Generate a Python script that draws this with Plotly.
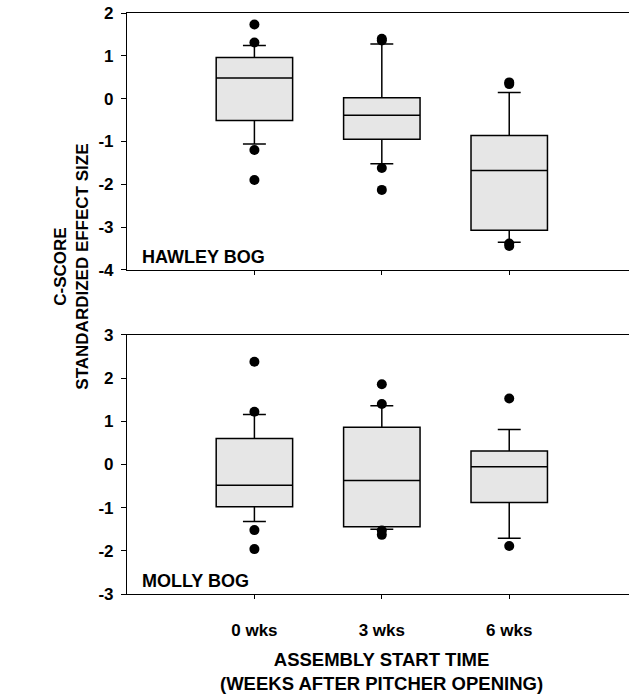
import plotly.graph_objects as go
from plotly.subplots import make_subplots

# category positions and labels
positions = [1, 2, 3]
tick_labels = ["0 wks", "3 wks", "6 wks"]

# y tick values (labels use a plain hyphen like the original)
hawley_yticks = [-4, -3, -2, -1, 0, 1, 2]
molly_yticks = [-3, -2, -1, 0, 1, 2, 3]

# Hawley Bog box statistics
hawley_q1 = [-0.51, -0.95, -3.07]
hawley_median = [0.48, -0.385, -1.68]
hawley_q3 = [0.96, 0.02, -0.86]
hawley_low = [-1.06, -1.52, -3.35]
hawley_high = [1.24, 1.275, 0.145]
hawley_outliers = [
    [1.73, 1.31, -1.20, -1.90],
    [1.40, 1.36, -1.62, -2.13],
    [0.38, 0.34, -3.38, -3.44],
]

# Molly Bog box statistics
molly_q1 = [-0.98, -1.44, -0.88]
molly_median = [-0.48, -0.37, -0.05]
molly_q3 = [0.60, 0.86, 0.31]
molly_low = [-1.32, -1.50, -1.71]
molly_high = [1.16, 1.36, 0.81]
molly_outliers = [
    [2.38, 1.22, -1.52, -1.96],
    [1.86, 1.40, -1.53, -1.63],
    [1.53, -1.89],
]

FONT = "Liberation Sans"


def bold(size):
    return dict(family=FONT, size=size, color="black", weight="bold")


def add_panel(figure, row, q1, median, q3, low, high, outliers):
    figure.add_trace(
        go.Box(
            x=positions,
            q1=q1,
            median=median,
            q3=q3,
            lowerfence=low,
            upperfence=high,
            width=0.6,
            whiskerwidth=0.3,
            fillcolor="#e6e6e6",
            line=dict(color="black", width=1.5),
            boxpoints=False,
            showlegend=False,
        ),
        row=row,
        col=1,
    )
    out_x = []
    out_y = []
    for pos, values in zip(positions, outliers):
        out_x += [pos] * len(values)
        out_y += values
    figure.add_trace(
        go.Scatter(
            x=out_x,
            y=out_y,
            mode="markers",
            marker=dict(color="black", size=10),
            showlegend=False,
        ),
        row=row,
        col=1,
    )


fig = make_subplots(rows=2, cols=1)

add_panel(fig, 1, hawley_q1, hawley_median, hawley_q3,
          hawley_low, hawley_high, hawley_outliers)
add_panel(fig, 2, molly_q1, molly_median, molly_q3,
          molly_low, molly_high, molly_outliers)

axis_common = dict(
    showline=True,
    linecolor="black",
    linewidth=1.2,
    showgrid=False,
    zeroline=False,
    ticks="outside",
    tickcolor="black",
    tickwidth=1.2,
    automargin=False,
)

fig.update_xaxes(
    **axis_common,
    range=[0, 3.94],
    tickvals=positions,
    ticktext=tick_labels,
    ticklen=4,
    mirror=True,
    tickfont=bold(17),
)
fig.update_xaxes(showticklabels=False, row=1, col=1)
fig.update_yaxes(**axis_common, ticklen=5, ticklabelstandoff=4,
                 tickfont=bold(17))
fig.update_yaxes(range=[-4, 2], tickvals=hawley_yticks,
                 ticktext=[str(v) for v in hawley_yticks], row=1, col=1)
fig.update_yaxes(range=[-3, 3], tickvals=molly_yticks,
                 ticktext=[str(v) for v in molly_yticks], row=2, col=1)

fig.update_layout(
    width=629,
    height=696,
    margin=dict(l=127, r=0, t=13, b=102, autoexpand=False),
    paper_bgcolor="white",
    plot_bgcolor="white",
    xaxis=dict(domain=[0, 1]),
    yaxis=dict(domain=[0.5577, 1]),
    xaxis2=dict(domain=[0, 1], ticklabelstandoff=16),
    yaxis2=dict(domain=[0, 0.4458]),
    font=dict(family=FONT, color="black"),
)

fig.add_annotation(
    text="HAWLEY BOG", xref="x", yref="y", x=0.1, y=-3.97,
    xanchor="left", yanchor="bottom", showarrow=False, font=bold(18),
)
fig.add_annotation(
    text="MOLLY BOG", xref="x2", yref="y2", x=0.1, y=-2.97,
    xanchor="left", yanchor="bottom", showarrow=False, font=bold(18),
)
fig.add_annotation(
    text="C-SCORE<br>STANDARDIZED EFFECT SIZE",
    xref="paper", yref="paper", x=-0.11, y=0.563,
    xanchor="center", yanchor="middle", textangle=-90, showarrow=False,
    font=bold(17),
)
fig.add_annotation(
    text="ASSEMBLY START TIME<br>(WEEKS AFTER PITCHER OPENING)",
    xref="x2", yref="paper", x=2.0, y=-0.092,
    xanchor="center", yanchor="top", showarrow=False,
    font=bold(18.5),
)

# drop the browser's default body margin so the figure fills the window
fig.write_html(
    "out.html",
    config={"displayModeBar": False},
    post_script="document.body.style.margin = '0';"
                "document.body.style.overflow = 'hidden';",
)
